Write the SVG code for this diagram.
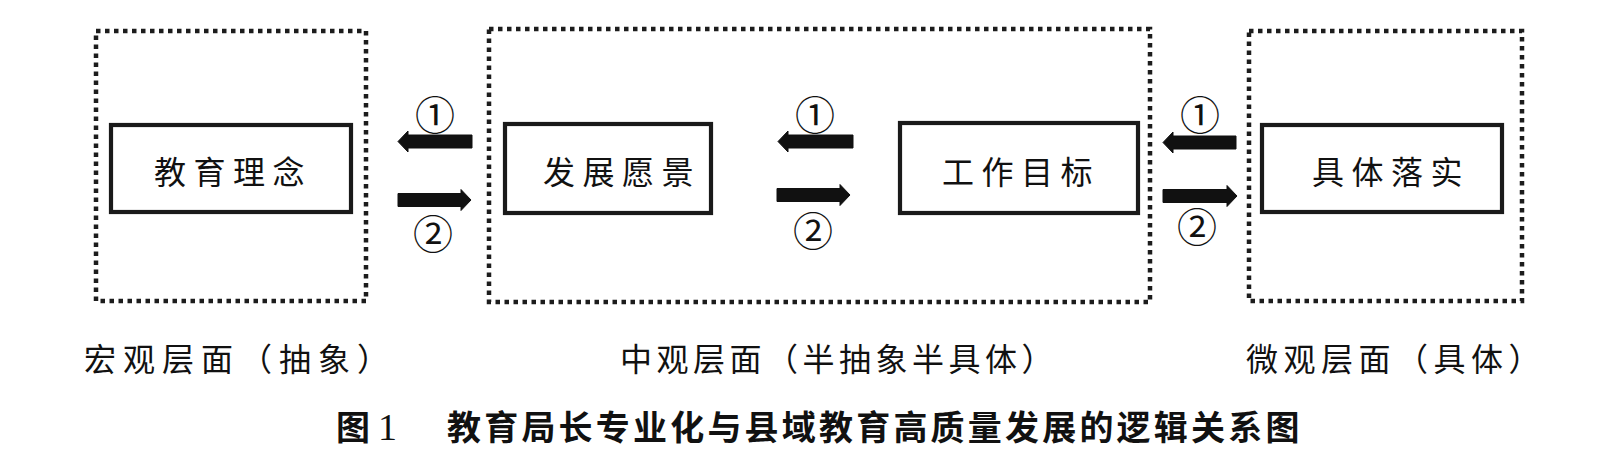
<svg xmlns="http://www.w3.org/2000/svg" width="1604" height="456" viewBox="0 0 1604 456">
<style>
.bg{fill:#ffffff}
.layer{fill:none;stroke:#1c1c1c;stroke-width:4.5;stroke-dasharray:4.5 4.5}
.box{fill:#ffffff;stroke:#1a1a1a;stroke-width:4.2}
.lbl{font-family:"Noto Sans CJK SC","Noto Sans CJK JP",sans-serif;font-size:32px;font-weight:400;fill:#111;letter-spacing:7.5px;dominant-baseline:central}
.lvl{font-family:"Noto Sans CJK SC","Noto Sans CJK JP",sans-serif;font-size:32px;font-weight:400;fill:#111;dominant-baseline:central}
.num{font-family:"Noto Sans CJK SC","Noto Sans CJK JP",sans-serif;font-size:40px;font-weight:400;fill:#111;text-anchor:middle;dominant-baseline:central}
.arrow{fill:#111;stroke:#111;stroke-width:1}
.title{font-family:"Noto Sans CJK SC","Noto Sans CJK JP",sans-serif;font-size:34px;font-weight:700;fill:#111;dominant-baseline:central}
.titlenum{font-family:"Liberation Serif",serif;font-size:38px;fill:#111;dominant-baseline:central}
</style>
<rect class="bg" x="0" y="0" width="1604" height="456"/>

<g id="macro-layer">
  <rect class="layer" x="96" y="31" width="270" height="270"/>
  <text class="lvl" x="84" y="357" style="letter-spacing:7px">宏观层面（抽象）</text>
</g>
<g id="meso-layer">
  <rect class="layer" x="489" y="29" width="661" height="273"/>
  <text class="lvl" x="620" y="357" style="letter-spacing:4.5px">中观层面（半抽象半具体）</text>
</g>
<g id="micro-layer">
  <rect class="layer" x="1249" y="31" width="273" height="270"/>
  <text class="lvl" x="1246" y="357" style="letter-spacing:5.5px">微观层面（具体）</text>
</g>

<g id="node-idea">
  <rect class="box" x="111" y="125" width="240" height="87"/>
  <text class="lbl" x="154" y="170">教育理念</text>
</g>
<g id="node-vision">
  <rect class="box" x="505" y="124" width="206" height="89"/>
  <text class="lbl" x="543" y="170">发展愿景</text>
</g>
<g id="node-goal">
  <rect class="box" x="900" y="123" width="238" height="90"/>
  <text class="lbl" x="942" y="170">工作目标</text>
</g>
<g id="node-implement">
  <rect class="box" x="1262" y="125" width="240" height="87"/>
  <text class="lbl" x="1312" y="170">具体落实</text>
</g>

<g id="connectors">
  <path class="arrow" d="M398,141.5 L408,131 L408,135 L472,135 L472,148 L408,148 L408,152 Z"/>
  <path class="arrow" d="M471,200 L461,189.5 L461,193.5 L398,193.5 L398,206.5 L461,206.5 L461,210.5 Z"/>
  <path class="arrow" d="M778,141.5 L788,131 L788,135 L853,135 L853,148 L788,148 L788,152 Z"/>
  <path class="arrow" d="M850,195 L840,184.5 L840,188.5 L777,188.5 L777,201.5 L840,201.5 L840,205.5 Z"/>
  <path class="arrow" d="M1163,142.5 L1173,132 L1173,136 L1236,136 L1236,149 L1173,149 L1173,153 Z"/>
  <path class="arrow" d="M1237,196 L1227,185.5 L1227,189.5 L1163,189.5 L1163,202.5 L1227,202.5 L1227,206.5 Z"/>
  <text class="num" x="435" y="113">①</text>
  <text class="num" x="433" y="232">②</text>
  <text class="num" x="815" y="113">①</text>
  <text class="num" x="813" y="229">②</text>
  <text class="num" x="1200" y="113">①</text>
  <text class="num" x="1197" y="225">②</text>
</g>

<g id="caption">
  <text class="title" x="336" y="425">图</text>
  <text class="titlenum" x="378" y="427">1</text>
  <text class="title" x="447" y="425" style="letter-spacing:3.2px">教育局长专业化与县域教育高质量发展的逻辑关系图</text>
</g>
</svg>
